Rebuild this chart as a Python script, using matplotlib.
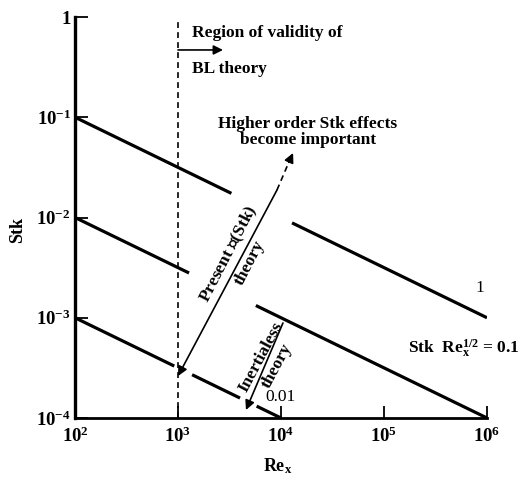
import numpy as np
import matplotlib
matplotlib.use("Agg")
import matplotlib.pyplot as plt
from matplotlib.ticker import FixedLocator, FuncFormatter

plt.rcParams["font.family"] = ["Liberation Serif", "DejaVu Serif"]
plt.rcParams["font.weight"] = "bold"
plt.rcParams["mathtext.fontset"] = "custom"
plt.rcParams["mathtext.rm"] = "Liberation Serif:bold"
plt.rcParams["mathtext.it"] = "Liberation Serif:italic:bold"
plt.rcParams["mathtext.bf"] = "Liberation Serif:bold"

# Stk * Re_x^(1/2) = const lines, drawn as broken segments (gaps leave room for labels)
coeffs = [1.0, 0.1, 0.01]
segments = [
    [(1e2, 3.3e3), (1.28e4, 1e6)],
    [(1e2, 1.28e3), (5.7e3, 1e6)],
    [(1e2, 9.2e2), (1.37e3, 4.0e3), (5.8e3, 1e4)],
]
re_ticks = [1e2, 1e3, 1e4, 1e5, 1e6]
stk_ticks = [1e-4, 1e-3, 1e-2, 1e-1, 1.0]
re_bl = 1e3  # onset of boundary-layer validity

fig = plt.figure(figsize=(5.32, 4.78), dpi=100)
ax = fig.add_axes([75 / 532, 1 - 418 / 478, (487 - 75) / 532, (418 - 17) / 478])
ax.set_xscale("log")
ax.set_yscale("log")
ax.set_xlim(1e2, 1e6)
ax.set_ylim(1e-4, 1.0)

for c, segs in zip(coeffs, segments):
    for a, b in segs:
        re = np.logspace(np.log10(a), np.log10(b), 50)
        ax.plot(re, c * re ** -0.5, color="black", lw=2.3, solid_capstyle="butt")

# vertical dashed line at Re_x = 10^3
ax.plot([re_bl, re_bl], [1e-4, 0.93], color="black", lw=1.2, dashes=(3.5, 2.5))

for s in ["top", "right"]:
    ax.spines[s].set_visible(False)
ax.spines["left"].set_linewidth(2.4)
ax.spines["bottom"].set_linewidth(2.0)

ax.xaxis.set_major_locator(FixedLocator(re_ticks))
ax.yaxis.set_major_locator(FixedLocator(stk_ticks))
ax.minorticks_off()


def pow_fmt(v, pos):
    e = int(round(np.log10(v)))
    if e == 0:
        return "1"
    return r"$\mathbf{10^{%d}}$" % e


ax.xaxis.set_major_formatter(FuncFormatter(pow_fmt))
ax.yaxis.set_major_formatter(FuncFormatter(pow_fmt))
ax.tick_params(axis="both", direction="in", length=9, width=1.3, labelsize=13.5)
ax.tick_params(axis="y", pad=3)
ax.tick_params(axis="x", pad=6)

fs = 12.5

# region of validity arrow
ax.annotate("", xy=(2735, 0.469), xytext=(re_bl, 0.469),
            arrowprops=dict(arrowstyle="-|>", color="black", lw=1.2,
                            mutation_scale=14, shrinkA=0, shrinkB=0))
ax.text(1368, 0.69, "Region of validity of", fontsize=fs, ha="left", va="center")
ax.text(1368, 0.303, "BL theory", fontsize=fs, ha="left", va="center")

ax.text(18300, 0.0713, "Higher order Stk effects\nbecome important", fontsize=fs,
        ha="center", va="center", linespacing=1.0)

# present O(Stk) theory double arrow (dashed toward the higher-order region)
ax.annotate("", xy=(1000, 2.62e-4), xytext=(9140, 0.0188),
            arrowprops=dict(arrowstyle="-|>", color="black", lw=1.2,
                            mutation_scale=14, shrinkA=0, shrinkB=0))
ax.plot([9140, 11900], [0.0188, 0.0355], color="black", lw=1.2, dashes=(3.5, 2.5))
ax.annotate("", xy=(13100, 0.044), xytext=(11900, 0.0355),
            arrowprops=dict(arrowstyle="-|>", color="black", lw=1.2,
                            mutation_scale=14, shrinkA=0, shrinkB=0))
ax.text(3126, 0.00432, r"Present $\mathcal{O}$(Stk)", fontsize=fs, rotation=62.7,
        rotation_mode="anchor", ha="center", va="center", math_fontfamily="stix")
ax.text(5000, 0.00352, "theory", fontsize=fs, rotation=62.7,
        rotation_mode="anchor", ha="center", va="center")

# inertialess theory arrow
ax.annotate("", xy=(4570, 1.202e-4), xytext=(10450, 8.87e-4),
            arrowprops=dict(arrowstyle="-|>", color="black", lw=1.2,
                            mutation_scale=14, shrinkA=0, shrinkB=0))
ax.text(6400, 4.1e-4, "Inertialess", fontsize=fs, rotation=62,
        rotation_mode="anchor", ha="center", va="center")
ax.text(9140, 3.30e-4, "theory", fontsize=fs, rotation=62,
        rotation_mode="anchor", ha="center", va="center")

# line labels
ax.text(9780, 1.62e-4, "0.01", fontsize=fs, ha="center", va="center", weight="normal")
ax.text(8.55e5, 1.98e-3, "1", fontsize=fs, ha="center", va="center", weight="normal")
ax.text(1.71e5, 4.99e-4, r"Stk  Re$_\mathbf{x}^{1/2}$ = 0.1", fontsize=fs,
        ha="left", va="center")

fig.text(18 / 532, 1 - 230 / 478, "Stk", rotation=90, fontsize=13,
         ha="center", va="center")
fig.text(278 / 532, 1 - 466 / 478, r"Re$_\mathbf{x}$", fontsize=13,
         ha="center", va="center")

fig.savefig("out.png", dpi=100)
